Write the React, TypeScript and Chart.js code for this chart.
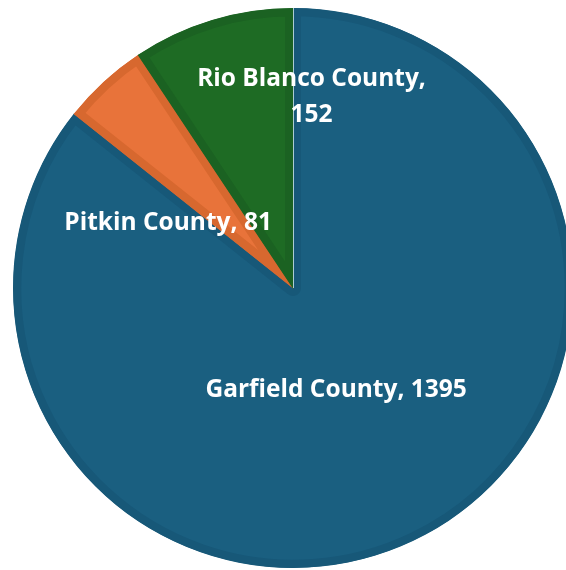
import React, { useEffect, useRef } from "react";
import { Chart, registerables } from "chart.js";

Chart.register(...registerables);

const categories = ["Garfield County", "Pitkin County", "Rio Blanco County"];
const values = [1395, 81, 152];
const labelLines = [["Garfield County, 1395"], ["Pitkin County, 81"], ["Rio Blanco County,", "152"]];

const fillColors = ["#1a5f80", "#e8733a", "#1e6b24"];
const borderColors = ["#175878", "#d7682f", "#1b6222"];
// label anchor offsets relative to pie centre, as fraction of radius
const labelOffsets = [
  [0.154, 0.364],
  [-0.446, -0.231],
  [0.066, -0.682],
];

const labelPlugin = {
  id: "pieLabels",
  afterDatasetsDraw(chart: any) {
    const { ctx } = chart;
    const meta = chart.getDatasetMeta(0);
    const first = meta.data[0];
    const cx = first.x;
    const cy = first.y;
    const r = first.outerRadius;
    ctx.save();
    ctx.strokeStyle = "rgba(200,225,230,0.85)";
    ctx.lineWidth = 1;
    ctx.beginPath();
    ctx.moveTo(cx + 0.5, cy);
    ctx.lineTo(cx + Math.cos(first.startAngle) * r + 0.5, cy + Math.sin(first.startAngle) * r);
    ctx.stroke();
    ctx.restore();

    ctx.save();
    ctx.fillStyle = "#ffffff";
    ctx.font = "bold 24.5px 'Open Sans', 'Noto Sans', sans-serif";
    ctx.textAlign = "center";
    ctx.textBaseline = "middle";
    const lh = 36;
    meta.data.forEach((arc: any, i: number) => {
      const lines = labelLines[i];
      const x = cx + labelOffsets[i][0] * r;
      const y = cy + labelOffsets[i][1] * r;
      const y0 = y - ((lines.length - 1) * lh) / 2;
      lines.forEach((t, j) => ctx.fillText(t, x, y0 + j * lh));
    });
    ctx.restore();
  },
};

export default function App() {
  const ref = useRef<HTMLCanvasElement>(null);
  useEffect(() => {
    if (!ref.current) return;
    const chart = new Chart(ref.current, {
      type: "pie",
      data: {
        labels: categories,
        datasets: [
          {
            data: values,
            backgroundColor: fillColors,
            borderColor: borderColors,
            borderWidth: 8,
            borderAlign: "inner",
          } as any,
        ],
      },
      options: {
        responsive: false,
        animation: false,
        radius: 280,
        layout: { padding: 0 },
        plugins: {
          legend: { display: false },
          tooltip: { enabled: false },
        },
      } as any,
      plugins: [labelPlugin],
    });
    return () => chart.destroy();
  }, []);
  return (
    <div
      style={{
        position: "fixed",
        left: 0,
        top: 0,
        width: 566,
        height: 570,
        overflow: "hidden",
        background: "#ffffff",
      }}
    >
      <canvas ref={ref} width={586} height={576} style={{ width: 586, height: 576, display: "block" }} />
    </div>
  );
}
